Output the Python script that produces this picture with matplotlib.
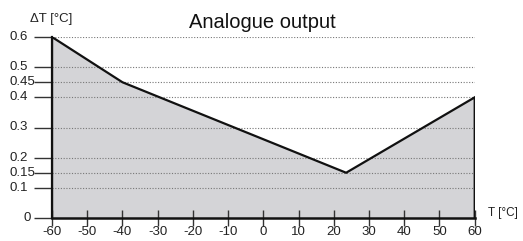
import matplotlib
matplotlib.use("Agg")
import matplotlib.pyplot as plt
from matplotlib.transforms import blended_transform_factory

plt.rcParams['font.family'] = ['Liberation Sans', 'DejaVu Sans']

temp = [-60, -40, 23.5, 60]
delta_t = [0.6, 0.45, 0.15, 0.4]
x_ticks = [-60, -50, -40, -30, -20, -10, 0, 10, 20, 30, 40, 50, 60]
y_ticks = [0, 0.1, 0.15, 0.2, 0.3, 0.4, 0.45, 0.5, 0.6]
y_labels = ['0', '0.1', '0.15', '0.2', '0.3', '0.4', '0.45', '0.5', '0.6']
grid_vals = [0.1, 0.15, 0.2, 0.3, 0.4, 0.45, 0.5, 0.6]

fig = plt.figure(figsize=(5.23, 2.41), dpi=100)
ax = fig.add_axes([52/523, 23/241, (474.7-52)/523, (218-37)/241])

xs = [temp[0]] + temp + [temp[-1]]
ys = [0] + delta_t + [0]
ax.fill(xs, ys, facecolor='#d4d4d7', edgecolor='none', zorder=1)
for g in grid_vals:
    ax.plot([temp[0], temp[-1]], [g, g], color='#777777', lw=0.8,
            linestyle=(0, (1, 1.5)), zorder=2)
ax.plot(xs, ys, color='#111111', lw=1.6, zorder=3, solid_joinstyle='miter')

ax.set_xlim(-60, 60)
ax.set_ylim(0, 0.6)
for s in ['top', 'right']:
    ax.spines[s].set_visible(False)
ax.spines['left'].set_linewidth(1.6)
ax.spines['bottom'].set_linewidth(1.8)
ax.spines['left'].set_color('#111111')
ax.spines['bottom'].set_color('#111111')

ax.set_xticks(x_ticks)
ax.set_xticklabels([str(v) for v in x_ticks], fontsize=9.5, color='#222222')
ax.tick_params(axis='x', direction='inout', length=11, width=1.0, color='#333333', pad=0)
ax.set_yticks(y_ticks)
ax.set_yticklabels([])
ax.tick_params(axis='y', direction='out', length=13, width=1.0, color='#333333')

trans = blended_transform_factory(fig.transFigure, ax.transData)
for v, lab in zip(y_ticks, y_labels):
    xpos = 23/523 if lab == '0' else 10/523
    ax.text(xpos, v, lab, transform=trans, ha='left', va='center', fontsize=9.5, color='#222222')

fig.text(51/523, 1 - 19/241, 'ΔT [°C]', ha='center', va='center', fontsize=9.5,
         color='#222222', family=['Liberation Sans', 'DejaVu Sans'])
fig.text(488/523, 1 - 213/241, 'T [°C]', ha='left', va='center', fontsize=8.5, color='#222222')
fig.text(262.5/523, 1 - 22/241, 'Analogue output', ha='center', va='center', fontsize=14.5, color='#111111')

fig.savefig('out.png', dpi=100)
